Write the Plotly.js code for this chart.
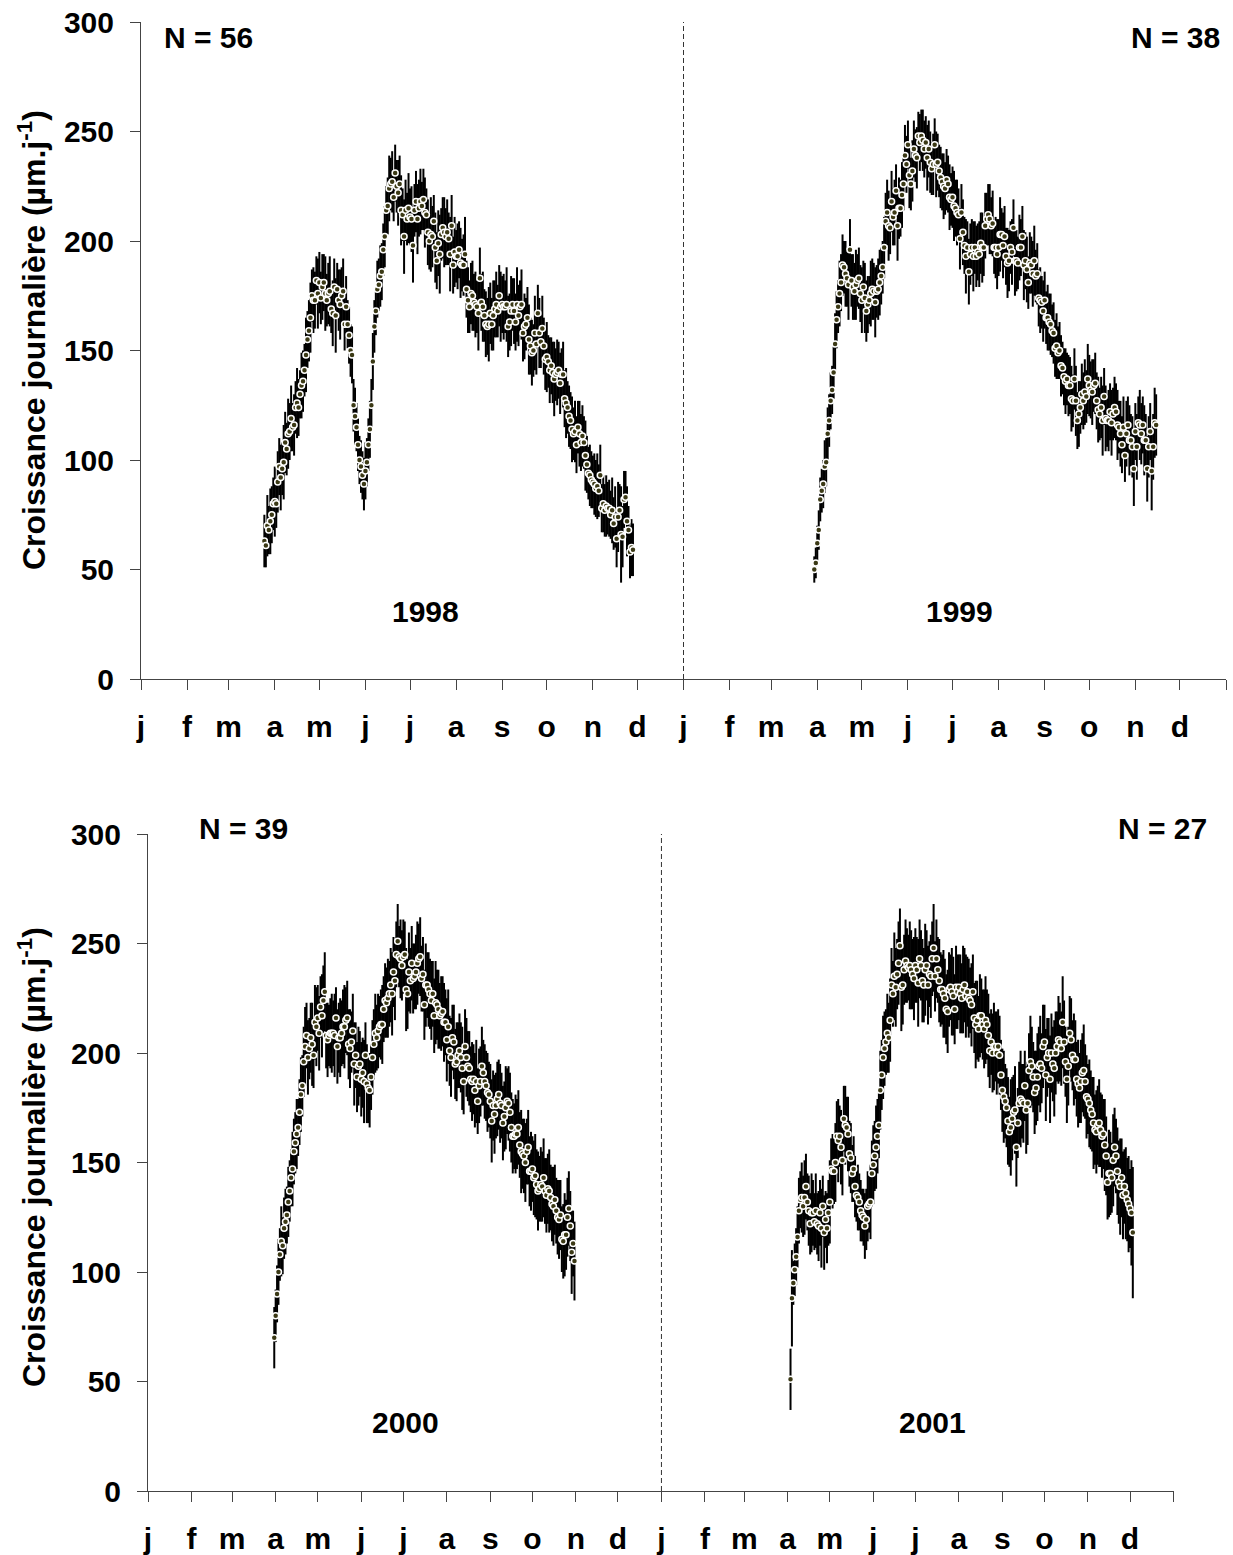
<!DOCTYPE html>
<html>
<head>
<meta charset="utf-8">
<script src="https://cdn.plot.ly/plotly-3.0.1.min.js"></script>
<style>html,body{margin:0;padding:0;background:#fff;}#chart{width:1233px;height:1555px;}</style>
</head>
<body>
<div id="chart"></div>
<script>
// ---- Data (daily mean growth, µm/day, and its dispersion) ----
const monthLabels = ['j','f','m','a','m','j','j','a','s','o','n','d'];
const monthDaysNormal = [31,28,31,30,31,30,31,31,30,31,30,31];
const monthDaysLeap = [31,29,31,30,31,30,31,31,30,31,30,31];
const yTicks = [0,50,100,150,200,250,300];

// first day index (0 = 1 January) of each year's series
const start1998 = 83;
const start1999 = 88;
const start2000 = 90;
const start2001 = 92;

const nLabels = {y1998:'N = 56', y1999:'N = 38', y2000:'N = 39', y2001:'N = 27'};

const vals1998 = [
63,61,70,68,72,75,80,81,80,90,
97,92,96,99,108,105,112,113,119,115,
116,124,126,124,130,134,136,141,148,155,
159,165,175,173,173,182,176,181,174,179,
181,176,173,176,177,169,167,179,166,178,
173,171,175,177,162,170,162,157,150,148,
125,120,115,107,100,97,93,89,95,99,
107,114,125,145,161,168,178,180,184,186,
196,202,214,216,224,226,227,220,231,225,
222,226,214,212,202,214,210,215,211,210,
198,214,218,210,215,218,216,219,213,212,
204,200,203,202,209,197,191,199,194,203,206,
204,202,204,201,194,207,189,195,193,193,
196,190,189,189,194,178,173,170,176,175,
172,171,170,167,183,172,170,166,162,161,
162,167,162,166,169,171,168,175,170,171,
170,170,171,161,163,168,171,168,163,171,
166,170,171,158,161,162,165,155,152,149,
150,158,153,167,158,154,160,152,146,147,
145,141,143,140,137,139,140,141,135,139,139,
128,126,124,120,118,114,112,113,107,115,
112,108,111,108,102,98,94,93,91,90,
89,87,88,86,93,78,80,77,79,78,
78,75,77,71,74,64,74,77,66,65,
82,83,72,68,58,60,59];
const sd1998 = [
12,10,14,11,15,13,12,16,11,14,
13,15,12,17,14,12,16,13,15,11,
14,12,16,13,11,15,14,12,17,13,
14,16,12,15,13,11,16,14,12,15,
13,17,12,14,16,11,15,13,17,12,
14,16,13,15,12,14,11,13,12,13,
12,13,11,12,11,12,11,12,13,11,
12,13,12,13,12,11,13,12,14,13,
12,14,11,13,15,12,14,11,13,12,
15,13,16,12,17,14,12,16,13,15,
17,12,14,16,13,15,11,14,16,12,
15,13,17,14,12,16,13,15,18,12,
14,16,13,15,12,17,14,13,16,12,
15,13,16,12,14,17,13,15,12,14,
16,13,15,12,17,14,13,16,12,15,
13,17,14,12,16,13,15,12,14,16,
13,15,12,17,14,13,16,12,15,13,
17,14,12,16,13,15,12,14,16,13,
15,12,17,14,13,16,12,15,13,14,
16,12,15,13,14,17,12,15,13,14,
12,15,13,16,12,14,13,15,12,14,
13,12,15,13,14,12,16,13,12,14,
13,12,14,13,15,12,14,11,13,12,
14,12,13,11,15,12,14,13,16,12,
22,14,13,12,16,11,12,13,12];

const vals1999 = [
50,53,62,68,82,86,89,97,99,112,
118,127,132,140,153,164,170,176,181,189,
188,185,183,180,196,182,179,177,180,182,
183,176,173,179,174,168,171,173,176,178,
177,172,177,178,181,184,188,197,209,213,
207,206,218,211,213,223,207,215,215,221,
226,239,235,244,230,226,232,242,239,238,
248,245,248,246,242,245,238,242,236,233,
235,244,235,236,232,229,227,225,224,228,
226,220,219,220,216,215,213,212,201,213,
204,198,193,197,186,194,197,193,197,193,
195,194,199,197,197,207,210,212,210,207,208,
197,197,194,197,203,203,198,202,193,190,
191,197,195,206,191,191,190,197,197,202,
189,191,187,181,190,189,185,191,184,185,
174,173,172,168,173,165,165,163,162,159,
158,151,152,149,150,143,142,138,136,137,
134,134,128,127,137,127,118,121,124,130,
127,131,129,137,134,132,131,134,135,127,
123,121,124,118,129,119,118,118,122,117,
121,124,122,116,115,112,107,115,102,112,
116,109,109,106,96,113,106,117,116,112,
116,109,109,96,106,113,95,106,117,116];
const sd1999 = [
6,7,8,9,10,10,11,12,11,12,
12,13,11,12,14,13,12,15,13,14,
12,15,13,16,14,12,15,13,16,12,
14,13,15,12,16,14,13,11,15,14,
13,16,12,14,15,13,12,14,13,15,
16,12,14,13,15,12,16,14,13,15,
12,14,13,11,15,12,14,13,12,14,
11,13,12,14,13,12,15,13,14,12,
14,12,15,13,12,14,13,15,12,14,
13,15,12,14,16,13,15,12,14,13,
15,13,17,12,15,14,13,16,12,14,
13,15,14,16,13,15,12,14,16,13,
15,12,14,16,13,17,12,15,14,13,
16,14,12,15,13,16,14,12,15,13,
14,16,13,15,12,14,13,15,16,12,
14,13,15,12,14,13,12,15,13,14,
12,14,13,15,12,13,14,12,13,15,
12,14,13,15,12,14,16,13,15,12,
14,13,15,12,16,14,13,15,12,14,
13,15,12,14,16,13,15,12,14,13,
15,12,14,13,16,12,15,13,14,12,
15,13,16,12,14,17,13,15,12,16,
14,13,16,12,15,14,13,18,15,16,14];

const vals2000 = [
70,80,90,100,108,114,112,120,123,126,
132,137,143,147,155,159,163,166,173,181,
185,196,203,208,198,202,207,204,199,214,
212,216,209,221,217,224,228,208,206,208,
209,209,209,208,216,203,207,207,209,212,
212,215,216,204,202,205,210,195,199,189,
194,195,188,191,187,199,186,184,183,189,
198,204,209,207,210,212,213,213,220,224,
223,225,227,231,227,237,233,245,251,244,
243,240,244,245,229,227,237,233,241,234,
235,237,241,243,244,234,236,222,231,231,
229,227,224,227,217,223,222,220,217,218,
219,214,214,206,212,201,198,207,205,195,
196,199,201,198,193,187,203,198,194,193,
188,187,188,183,187,178,185,187,194,191,
187,185,182,181,178,169,176,172,176,179,
181,177,176,168,171,175,178,177,173,166,
162,162,163,163,166,158,155,154,153,150,
155,157,146,146,147,143,144,140,137,138,
140,139,143,137,135,138,137,134,131,130,
133,128,125,124,126,115,114,117,117,125,
129,121,109,113,105];
const sd2000 = [
14,12,13,15,12,16,13,14,15,13,
16,14,13,17,15,14,16,13,15,17,
14,16,18,15,17,14,16,19,15,17,
18,15,17,14,19,16,18,15,17,14,
16,18,15,19,14,17,16,18,15,17,
19,15,17,16,18,14,17,19,15,16,
18,15,17,16,19,15,18,16,17,15,
17,16,18,15,17,14,16,18,15,17,
16,18,15,17,19,16,18,15,17,14,
18,16,17,15,19,16,18,15,17,16,
15,17,19,16,18,15,17,16,19,15,
17,16,18,15,17,19,16,18,15,17,
16,18,15,19,17,16,18,15,17,16,
18,15,17,16,19,15,17,18,16,17,
15,18,16,17,19,15,17,16,18,15,
17,16,18,15,17,19,16,18,15,17,
16,18,15,17,16,19,15,17,18,16,
17,15,18,16,17,15,19,16,17,18,
15,17,16,18,15,17,19,16,18,15,
17,16,18,15,17,16,19,15,17,18,
16,15,17,18,16,15,17,19,16,18,
17,16,19,15,18];

const vals2001 = [
51,88,95,101,107,116,128,133,134,130,
134,139,132,128,122,127,127,123,128,122,
121,127,120,130,118,124,120,127,132,147,
146,146,150,162,160,162,157,151,170,167,
166,163,154,152,145,147,139,135,134,132,
128,126,125,121,124,130,131,132,145,149,
153,157,162,167,183,190,198,202,205,209,
207,215,231,227,235,230,236,241,249,230,
231,238,242,240,239,240,238,236,234,240,
238,232,243,240,233,231,238,240,231,236,
235,243,248,235,243,238,233,229,229,227,
225,220,219,229,230,228,226,220,230,228,
230,227,225,229,231,226,228,225,224,222,
228,216,213,215,211,217,217,213,211,215,
213,208,201,205,200,203,203,200,203,199,
190,183,180,178,175,169,164,166,170,173,
174,157,168,177,179,178,177,185,174,177,
192,196,194,189,182,184,189,194,195,193,
203,205,190,198,200,188,200,195,193,200,
203,206,205,202,214,205,196,188,194,209,
206,199,197,197,188,186,184,187,191,192,
187,180,179,177,174,172,168,165,164,167,
168,165,162,163,158,153,141,145,145,143,
151,157,153,146,141,139,143,135,139,136,
133,131,129,127,118];
const sd2001 = [
14,22,10,12,13,14,15,13,16,14,
17,15,13,16,14,18,15,13,17,14,
16,15,18,14,17,13,16,15,19,14,
17,15,18,16,19,14,17,16,15,18,
14,17,15,16,13,15,14,12,15,13,
14,12,13,15,14,16,13,17,15,18,
16,19,17,15,18,16,19,17,15,18,
16,19,17,15,20,18,16,19,17,20,
18,16,19,17,15,20,18,16,19,17,
15,20,18,16,19,17,21,16,18,15,
19,17,20,16,18,15,19,17,16,20,
18,16,19,17,15,20,18,16,19,17,
15,18,16,20,17,19,16,18,15,19,
17,16,20,18,15,19,17,16,18,20,
16,19,17,15,18,20,16,19,17,18,
16,19,21,17,18,20,16,22,19,17,
20,18,16,19,22,17,18,16,20,19,
17,21,18,16,19,17,20,18,22,16,
19,17,21,18,16,20,18,17,22,19,
16,20,18,17,21,19,16,20,18,17,
19,16,21,18,17,20,16,19,18,21,
17,19,16,20,18,17,21,16,19,18,
20,17,19,16,21,18,17,20,19,16,
21,18,17,20,19,22,18,20,17,21,
19,22,18,24,30];

// ---- Helpers ----
const FONT = '"Liberation Sans", Arial, sans-serif';
const W = 1233, H = 1555;

function monthTicks(yearA, yearB) {
  const vals = [], text = [];
  let acc = 0;
  [yearA, yearB].forEach(lengths => {
    lengths.forEach((len, i) => { vals.push(acc); text.push(monthLabels[i]); acc += len; });
  });
  vals.push(acc); text.push(' ');
  return {vals, text, total: acc};
}

function series(vals, sd, start, offset, xa, ya) {
  return {
    type: 'scatter', mode: 'markers',
    x: vals.map((_, i) => offset + start + i), y: vals,
    xaxis: xa, yaxis: ya,
    marker: {size: 6, color: '#3b3915', line: {color: '#ffffff', width: 1.5}},
    error_y: {type: 'data', array: sd, visible: true, color: '#000000', thickness: 2, width: 0},
    hoverinfo: 'skip', showlegend: false, cliponaxis: false
  };
}

const topTicks = monthTicks(monthDaysNormal, monthDaysNormal);
const botTicks = monthTicks(monthDaysLeap, monthDaysNormal);
const len1998 = monthDaysNormal.reduce((a, b) => a + b, 0);
const len2000 = monthDaysLeap.reduce((a, b) => a + b, 0);

const data = [
  series(vals1998, sd1998, start1998, 0, 'x', 'y'),
  series(vals1999, sd1999, start1999, len1998, 'x', 'y'),
  series(vals2000, sd2000, start2000, 0, 'x2', 'y2'),
  series(vals2001, sd2001, start2001, len2000, 'x2', 'y2')
];

const tickFont = {family: FONT, size: 30, color: '#000', weight: 'bold'};
function xAxis(domain, ticks, anchor) {
  return {domain, anchor, range: [0, ticks.total], tickmode: 'array', tickvals: ticks.vals, ticktext: ticks.text,
    ticks: 'outside', ticklen: 10, tickwidth: 1, tickcolor: '#444', showline: true, linecolor: '#444', linewidth: 1,
    showgrid: false, zeroline: false, tickfont: tickFont, ticklabelstandoff: 11, fixedrange: true};
}
function yAxis(domain, anchor) {
  return {domain, anchor, range: [0, 300], tickmode: 'array', tickvals: yTicks,
    ticks: 'outside', ticklen: 10, tickwidth: 1, tickcolor: '#444', showline: true, linecolor: '#444', linewidth: 1,
    showgrid: false, zeroline: false, tickfont: tickFont, ticklabelstandoff: 10, fixedrange: true};
}

function ann(text, px, py, extra, size) {
  return Object.assign({text: '<b>' + text + '</b>', x: px / W, y: 1 - py / H, xref: 'paper', yref: 'paper',
    xanchor: 'center', yanchor: 'middle', showarrow: false, font: {family: FONT, size: size || 30, color: '#000'}}, extra || {});
}

const yTitle = 'Croissance journalière (µm.j<sup>-1</sup>)';

const layout = {
  width: W, height: H, margin: {l: 0, r: 0, t: 0, b: 0},
  paper_bgcolor: '#fff', plot_bgcolor: 'rgba(0,0,0,0)', showlegend: false,
  xaxis: xAxis([141 / W, 1226 / W], topTicks, 'y'),
  yaxis: yAxis([1 - 679 / H, 1 - 22 / H], 'x'),
  xaxis2: xAxis([148 / W, 1173.5 / W], botTicks, 'y2'),
  yaxis2: yAxis([1 - 1491 / H, 1 - 834 / H], 'x2'),
  shapes: [
    {type: 'line', xref: 'x', yref: 'y', x0: len1998, x1: len1998, y0: 0, y1: 300, line: {color: '#333', width: 1, dash: '5px,3px'}},
    {type: 'line', xref: 'x2', yref: 'y2', x0: len2000, x1: len2000, y0: 0, y1: 300, line: {color: '#333', width: 1, dash: '5px,3px'}}
  ],
  annotations: [
    ann(nLabels.y1998, 208, 37), ann(nLabels.y1999, 1175, 37),
    ann('1998', 425, 611), ann('1999', 959, 611),
    ann(nLabels.y2000, 243, 828), ann(nLabels.y2001, 1162, 828),
    ann('2000', 405, 1422), ann('2001', 932, 1422),
    ann(yTitle, 32, 340, {textangle: -90}, 32),
    ann(yTitle, 32, 1157, {textangle: -90}, 32)
  ]
};

Plotly.newPlot('chart', data, layout, {staticPlot: true, displayModeBar: false});
</script>
</body>
</html>
